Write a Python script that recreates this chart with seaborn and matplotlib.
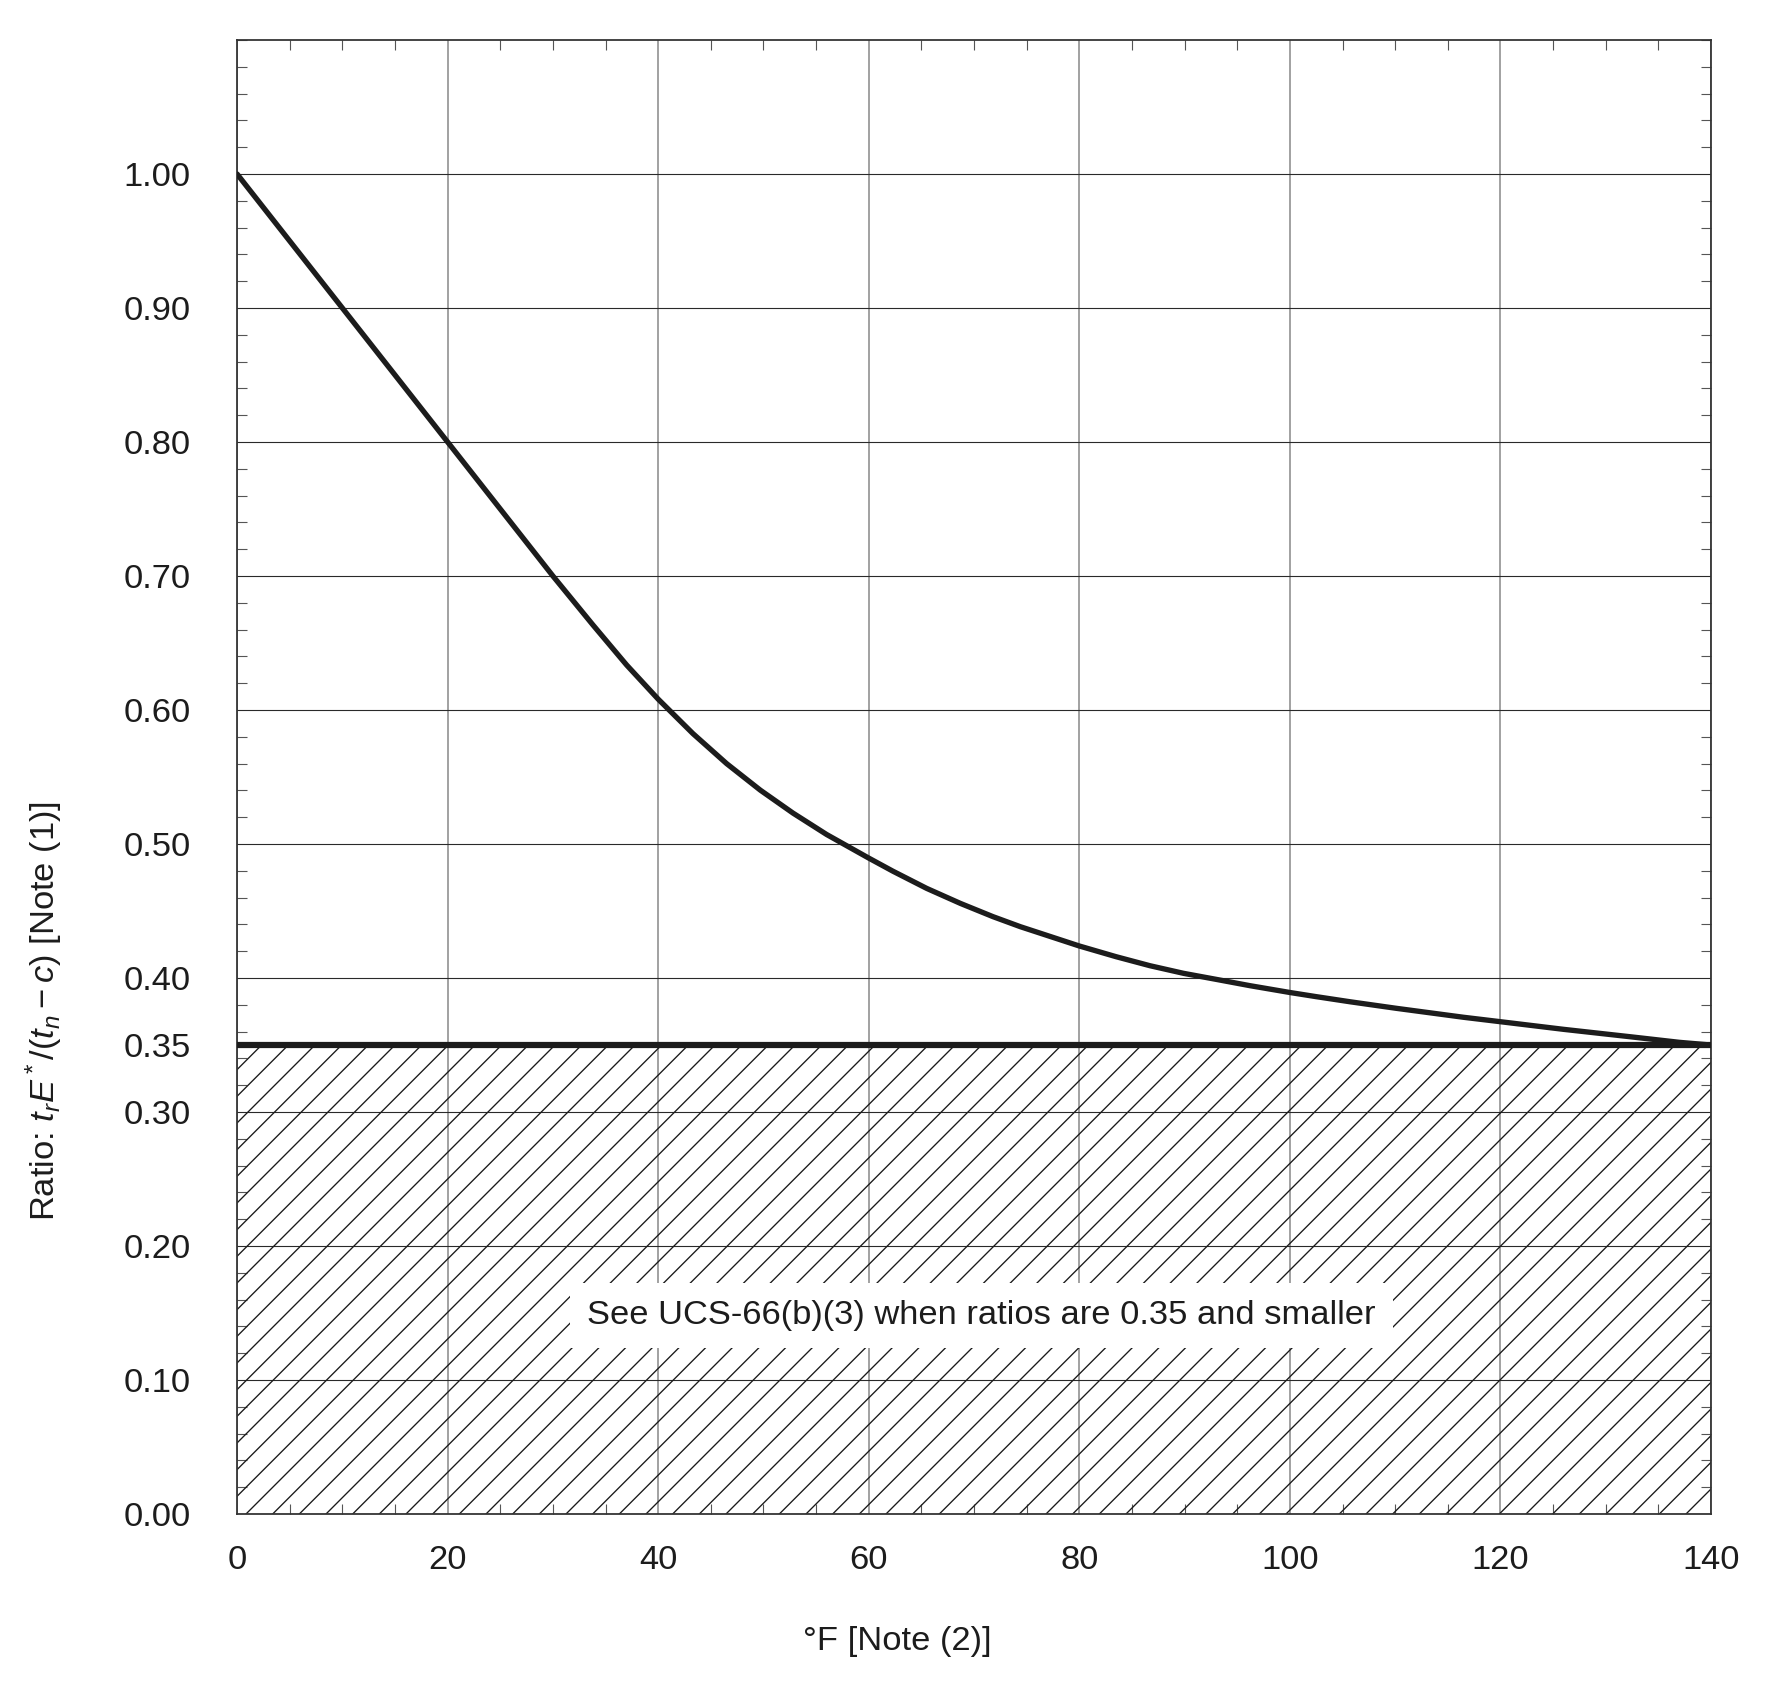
import numpy as np
import pandas as pd
import matplotlib
matplotlib.use("Agg")
import matplotlib.pyplot as plt
from matplotlib.ticker import MultipleLocator
import seaborn as sns

# values
temp_f = [0, 10, 20, 30, 33.8, 37, 40, 43.3, 46.5, 49.7, 52.8, 56, 60, 62.3, 65.5, 68.7,
          71.8, 74.4, 80, 83.5, 86.7, 89.9, 93, 96.2, 100, 102.5, 105.7, 110.1, 116.5,
          120, 126, 132.3, 137, 140]
ratio = [1.0000, 0.9000, 0.8000, 0.7000, 0.6635, 0.6336, 0.6081, 0.5824, 0.5600, 0.5402,
         0.5231, 0.5071, 0.4895, 0.4797, 0.4669, 0.4557, 0.4458, 0.4383, 0.4239, 0.4159,
         0.4092, 0.4035, 0.3990, 0.3943, 0.3892, 0.3861, 0.3823, 0.3774, 0.3707, 0.3674,
         0.3617, 0.3562, 0.3520, 0.3500]

x_ticks = [0, 20, 40, 60, 80, 100, 120, 140]
y_ticks = [0.00, 0.10, 0.20, 0.30, 0.35, 0.40, 0.50, 0.60, 0.70, 0.80, 0.90, 1.00]
y_labels = ["%.2f" % v for v in y_ticks]
limit_ratio = 0.35
note_text = "See UCS-66(b)(3) when ratios are 0.35 and smaller"
x_label = "\u00b0F [Note (2)]"
y_label = r"Ratio: $t_rE^*/(t_n - c)$ [Note (1)]"

sns.set_theme(style="white")
plt.rcParams["font.family"] = ["Liberation Sans", "DejaVu Sans"]
plt.rcParams["mathtext.fontset"] = "custom"
plt.rcParams["mathtext.rm"] = "Liberation Sans"
plt.rcParams["mathtext.it"] = "Liberation Sans:italic"
plt.rcParams["hatch.linewidth"] = 0.6
plt.rcParams["hatch.color"] = "#1a1a1a"

df = pd.DataFrame({"temp": temp_f, "ratio": ratio})
fs = 15.5

fig = plt.figure(figsize=(11.2, 10.6))
ax = fig.add_axes([0.1323, 0.1073, 0.8225, 0.8691])

# hatched region below the limit ratio
ax.fill_between([x_ticks[0], x_ticks[-1]], 0, limit_ratio, facecolor="none",
                edgecolor="#1a1a1a", hatch="//", linewidth=0, zorder=1)

sns.lineplot(data=df, x="temp", y="ratio", ax=ax, color="#1c1c1c", linewidth=2.4,
             solid_capstyle="round", solid_joinstyle="round", zorder=4)
ax.axhline(limit_ratio, color="#1c1c1c", linewidth=2.8, solid_capstyle="round", zorder=5)

ax.text(70.7, 0.148, note_text, ha="center", va="center", fontsize=fs, color="#1c1c1c",
        bbox=dict(boxstyle="square,pad=0.5", fc="white", ec="none"), zorder=3)

ax.set_xlim(x_ticks[0], x_ticks[-1])
ax.set_ylim(0, 1.10)
ax.set_xticks(x_ticks)
ax.set_yticks(y_ticks)
ax.set_yticklabels(y_labels)
ax.xaxis.set_minor_locator(MultipleLocator(5))
ax.yaxis.set_minor_locator(MultipleLocator(0.02))

ax.grid(False)
ax.xaxis.grid(True, which="major", color="#8a8a8a", linewidth=0.7, zorder=0)
ax.yaxis.grid(True, which="major", color="#2a2a2a", linewidth=0.5, zorder=0)
ax.set_axisbelow(True)

ax.tick_params(which="major", length=0, labelsize=fs, labelcolor="#1c1c1c")
ax.tick_params(axis="y", which="major", pad=21)
ax.tick_params(axis="x", which="major", pad=14)
ax.tick_params(which="minor", direction="in", length=4.5, width=0.5, color="#555555",
               top=True, bottom=True, left=True, right=True)

for s in ax.spines.values():
    s.set_color("#333333")
    s.set_linewidth(0.8)

ax.set_xlabel(x_label, fontsize=fs, color="#1c1c1c")
ax.set_ylabel(y_label, fontsize=fs, color="#1c1c1c")
ax.xaxis.set_label_coords(0.448, -0.076)
ax.yaxis.set_label_coords(-0.117, 0.341)

fig.savefig("out.png", dpi=160, facecolor="white")
